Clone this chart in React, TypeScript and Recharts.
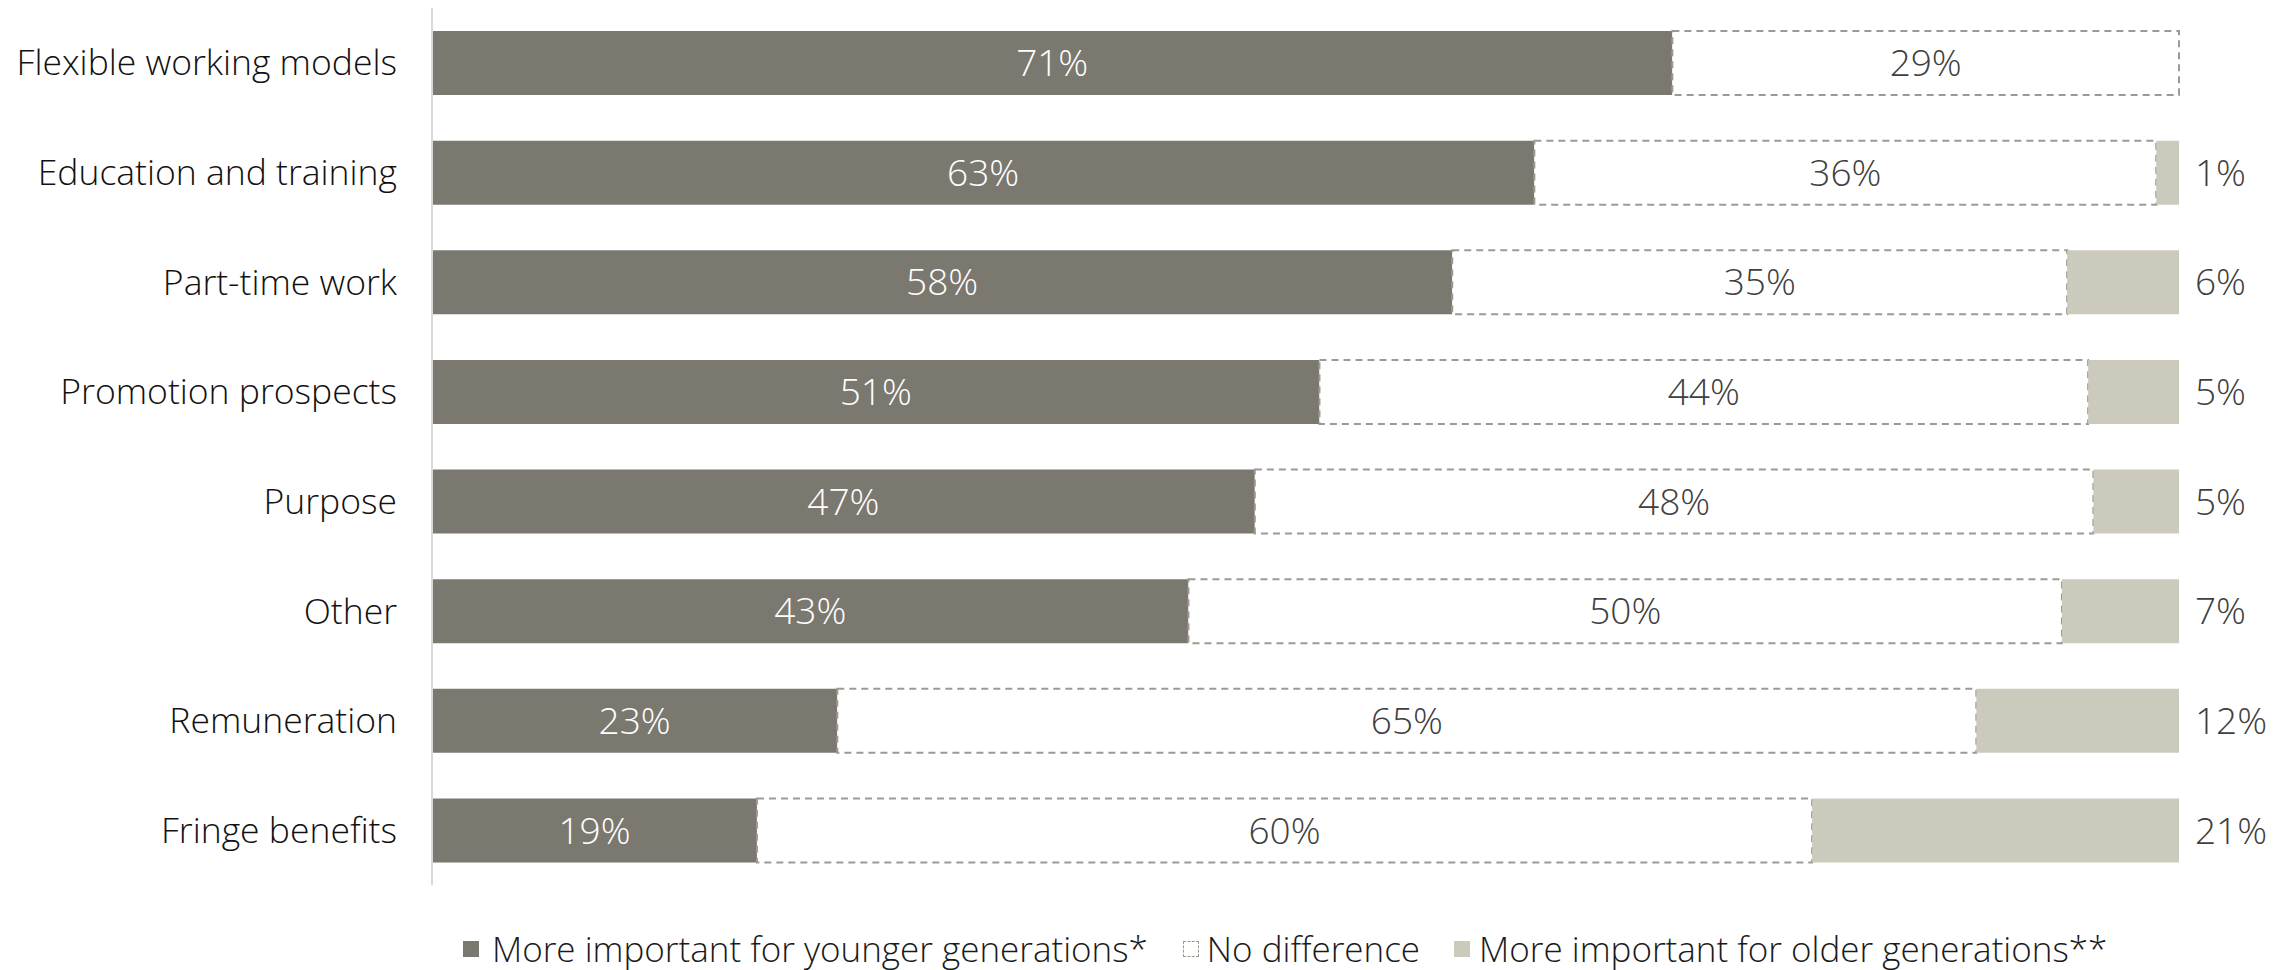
import React from 'react';
import { BarChart, Bar, XAxis, YAxis, Legend, LabelList } from 'recharts';

const categories = [
  'Flexible working models',
  'Education and training',
  'Part-time work',
  'Promotion prospects',
  'Purpose',
  'Other',
  'Remuneration',
  'Fringe benefits',
];
// shares; labels show the rounded values
const younger = [71, 63.1, 58.4, 50.8, 47.1, 43.3, 23.2, 18.6];
const noDifference = [29, 35.6, 35.2, 44.0, 48.0, 50.0, 65.2, 60.4];
const older = [0, 1.3, 6.4, 5.2, 4.9, 6.7, 11.6, 21.0];

const seriesNames = [
  'More important for younger generations*',
  'No difference',
  'More important for older generations**',
];

const DARK = '#7b7870';
const LIGHT = '#cccabd';
const DASH = '#9c9a91';
const FONT = '"Open Sans", "Noto Sans", sans-serif';

const data = categories.map((category, i) => ({
  category,
  younger: younger[i],
  noDifference: noDifference[i],
  older: older[i],
}));

const pct = (v: any) => (Number(v) > 0 ? `${Math.round(Number(v))}%` : '');

function LegendContent() {
  const item = (swatch: React.ReactNode, label: string, gap: number, ml: number) => (
    <div style={{ display: 'flex', alignItems: 'center', marginLeft: ml }}>
      {swatch}
      <span style={{ marginLeft: gap }}>{label}</span>
    </div>
  );
  return (
    <div
      style={{
        height: 85,
        display: 'flex',
        alignItems: 'center',
        paddingTop: 42,
        boxSizing: 'border-box',
        paddingLeft: 463,
        fontSize: 35,
        fontWeight: 300,
        color: '#1a1a1a',
        whiteSpace: 'nowrap',
      }}
    >
      {item(<div style={{ width: 16, height: 16, background: DARK }} />, seriesNames[0], 13, 0)}
      {item(
        <div style={{ width: 14, height: 14, border: `1px dashed ${DASH}` }} />,
        seriesNames[1],
        8,
        35
      )}
      {item(<div style={{ width: 16, height: 16, background: LIGHT }} />, seriesNames[2], 9, 34)}
    </div>
  );
}

export default function App() {
  return (
    <div style={{ width: 2290, height: 970, fontFamily: FONT, background: '#fff' }}>
      <style>{'body{margin:0}'}</style>
      <BarChart
        width={2290}
        height={970}
        data={data}
        layout="vertical"
        margin={{ top: 8, right: 111, left: 0, bottom: 0 }}
        barSize={64}
      >
        <XAxis type="number" domain={[0, 100]} hide />
        <YAxis
          type="category"
          dataKey="category"
          width={432}
          axisLine={{ stroke: '#d9d9d9', strokeWidth: 2 }}
          tickLine={false}
          tickMargin={29}
          tick={{ fill: '#111', fontSize: 35.5, fontWeight: 300 }}
        />
        <Legend verticalAlign="bottom" content={() => <LegendContent />} />
        <Bar dataKey="younger" stackId="a" fill={DARK} isAnimationActive={false}>
          <LabelList
            dataKey="younger"
            position="center"
            formatter={pct}
            fill="#fff"
            fontSize={37}
            fontWeight={300}
          />
        </Bar>
        <Bar
          dataKey="noDifference"
          stackId="a"
          fill="#fff"
          stroke={DASH}
          strokeWidth={2}
          strokeDasharray="7 5"
          isAnimationActive={false}
        >
          <LabelList
            dataKey="noDifference"
            position="center"
            formatter={pct}
            fill="#404040"
            fontSize={37}
            fontWeight={300}
          />
        </Bar>
        <Bar dataKey="older" stackId="a" fill={LIGHT} isAnimationActive={false}>
          <LabelList
            dataKey="older"
            position="right"
            offset={16}
            formatter={pct}
            fill="#404040"
            fontSize={37}
            fontWeight={300}
          />
        </Bar>
      </BarChart>
    </div>
  );
}
